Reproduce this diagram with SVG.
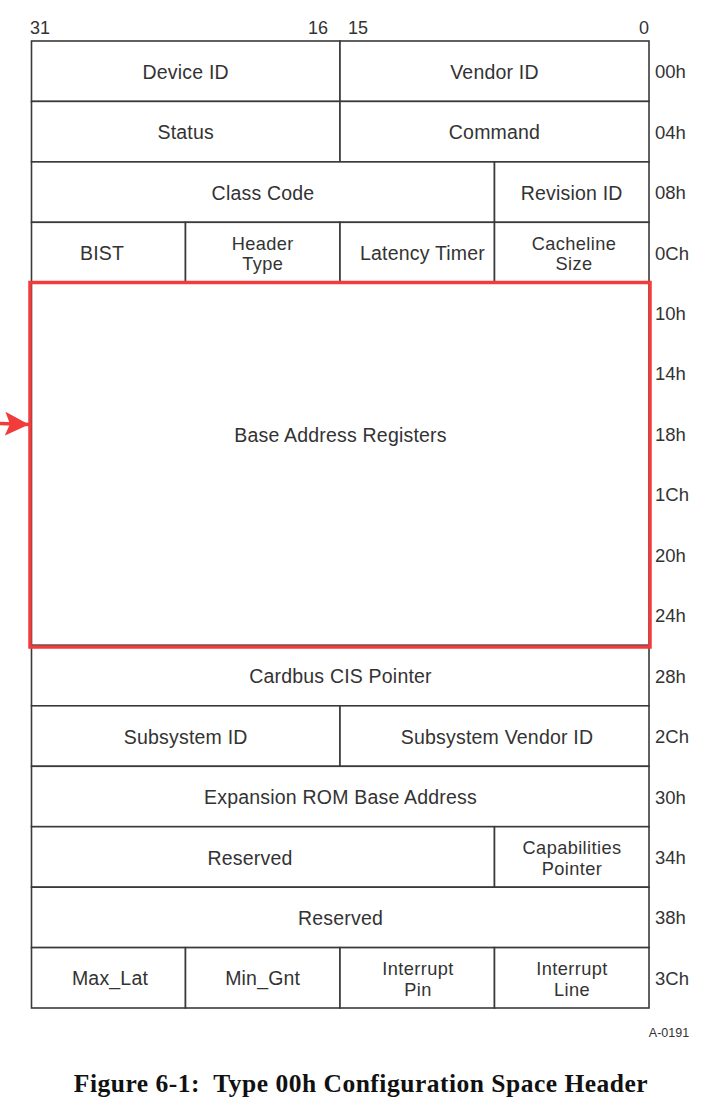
<svg xmlns="http://www.w3.org/2000/svg" width="712" height="1117" viewBox="0 0 712 1117">
<style>
.c{fill:#fff;stroke:#3a3a3a;stroke-width:1.6}
.t{font-family:"Liberation Sans",Arial,sans-serif;font-size:19.5px;fill:#333;text-anchor:middle;letter-spacing:0.2px}
.t2{font-family:"Liberation Sans",Arial,sans-serif;font-size:18.2px;fill:#333;text-anchor:middle;letter-spacing:0.4px}
.o{font-family:"Liberation Sans",Arial,sans-serif;font-size:18.5px;fill:#333}
.b{font-family:"Liberation Sans",Arial,sans-serif;font-size:18px;fill:#333}
.hl{fill:none;stroke:#f23b3b;stroke-width:3.5}
.ar{stroke:#f23b3b;stroke-width:3.5;fill:none}
</style>
<defs>
<marker id="ah" markerUnits="userSpaceOnUse" markerWidth="26" markerHeight="26" refX="24" refY="12" orient="auto">
<path d="M0,0 L24,12 L0,24 L5,12 Z" fill="#f23b3b"/>
</marker>
</defs>
<rect width="712" height="1117" fill="#fff"/>
<g id="bits">
<text class="b" x="30" y="34">31</text>
<text class="b" x="328" y="34" text-anchor="end">16</text>
<text class="b" x="348" y="34">15</text>
<text class="b" x="649" y="34" text-anchor="end">0</text>
</g>
<g id="r00">
<rect class="c" x="31.5" y="41" width="308.5" height="60.4"/><text class="t" x="185.7" y="78.7">Device ID</text>
<rect class="c" x="340" y="41" width="309" height="60.4"/><text class="t" x="494.5" y="78.7">Vendor ID</text>
</g>
<g id="r04">
<rect class="c" x="31.5" y="101.4" width="308.5" height="60.5"/><text class="t" x="185.7" y="139">Status</text>
<rect class="c" x="340" y="101.4" width="309" height="60.5"/><text class="t" x="494.5" y="139">Command</text>
</g>
<g id="r08">
<rect class="c" x="31.5" y="161.9" width="463" height="60.4"/><text class="t" x="263" y="199.5">Class Code</text>
<rect class="c" x="494.5" y="161.9" width="154.5" height="60.4"/><text class="t" x="571.7" y="199.5">Revision ID</text>
</g>
<g id="r0c">
<rect class="c" x="31.5" y="222.3" width="154" height="60.5"/><text class="t" x="102" y="260">BIST</text>
<rect class="c" x="185.5" y="222.3" width="154.5" height="60.5"/><text class="t2" y="249.5"><tspan x="262.7">Header</tspan><tspan x="262.7" dy="20.6">Type</tspan></text>
<rect class="c" x="340" y="222.3" width="154.5" height="60.5"/><text class="t" x="422.5" y="260">Latency Timer</text>
<rect class="c" x="494.5" y="222.3" width="154.5" height="60.5"/><text class="t2" y="249.5"><tspan x="574">Cacheline</tspan><tspan x="574" dy="20.6">Size</tspan></text>
</g>
<g id="bar">
<rect class="c" x="31.5" y="282.8" width="617.5" height="362.6"/>
<text class="t" x="340.5" y="441.5">Base Address Registers</text>
</g>
<g id="r28">
<rect class="c" x="31.5" y="645.4" width="617.5" height="60.4"/><text class="t" x="340.5" y="683">Cardbus CIS Pointer</text>
</g>
<g id="r2c">
<rect class="c" x="31.5" y="705.8" width="308.5" height="60.5"/><text class="t" x="185.7" y="743.5">Subsystem ID</text>
<rect class="c" x="340" y="705.8" width="309" height="60.5"/><text class="t" x="497" y="743.5">Subsystem Vendor ID</text>
</g>
<g id="r30">
<rect class="c" x="31.5" y="766.3" width="617.5" height="60.4"/><text class="t" x="340.5" y="804">Expansion ROM Base Address</text>
</g>
<g id="r34">
<rect class="c" x="31.5" y="826.7" width="463" height="60.5"/><text class="t" x="250" y="864.5">Reserved</text>
<rect class="c" x="494.5" y="826.7" width="154.5" height="60.5"/><text class="t2" y="854.3"><tspan x="572">Capabilities</tspan><tspan x="572" dy="20.6">Pointer</tspan></text>
</g>
<g id="r38">
<rect class="c" x="31.5" y="887.2" width="617.5" height="60.4"/><text class="t" x="340.5" y="925">Reserved</text>
</g>
<g id="r3c">
<rect class="c" x="31.5" y="947.6" width="154" height="60.4"/><text class="t" x="110" y="985.3">Max_Lat</text>
<rect class="c" x="185.5" y="947.6" width="154.5" height="60.4"/><text class="t" x="262.7" y="985.3">Min_Gnt</text>
<rect class="c" x="340" y="947.6" width="154.5" height="60.4"/><text class="t2" y="975.2"><tspan x="418">Interrupt</tspan><tspan x="418" dy="20.6">Pin</tspan></text>
<rect class="c" x="494.5" y="947.6" width="154.5" height="60.4"/><text class="t2" y="975.2"><tspan x="572">Interrupt</tspan><tspan x="572" dy="20.6">Line</tspan></text>
</g>
<g id="offsets">
<text class="o" x="655" y="78.2">00h</text>
<text class="o" x="655" y="138.6">04h</text>
<text class="o" x="655" y="199.1">08h</text>
<text class="o" x="655" y="259.5">0Ch</text>
<text class="o" x="655" y="320">10h</text>
<text class="o" x="655" y="380.4">14h</text>
<text class="o" x="655" y="440.8">18h</text>
<text class="o" x="655" y="501.3">1Ch</text>
<text class="o" x="655" y="561.7">20h</text>
<text class="o" x="655" y="622.2">24h</text>
<text class="o" x="655" y="682.6">28h</text>
<text class="o" x="655" y="743">2Ch</text>
<text class="o" x="655" y="803.5">30h</text>
<text class="o" x="655" y="863.9">34h</text>
<text class="o" x="655" y="924.4">38h</text>
<text class="o" x="655" y="984.8">3Ch</text>
</g>
<g id="highlight">
<rect class="hl" x="30" y="282.5" width="620" height="364.5"/>
</g>
<g id="connectors">
<line class="ar" x1="-2" y1="423.5" x2="29" y2="424.5" marker-end="url(#ah)"/>
</g>
<g id="caption">
<text x="669" y="1037" font-family="'Liberation Sans',Arial,sans-serif" font-size="12.5" fill="#333" text-anchor="middle">A-0191</text>
<text x="361" y="1092" font-family="'Liberation Serif','Times New Roman',serif" font-size="25.5" font-weight="bold" fill="#111" text-anchor="middle" letter-spacing="0.5" style="white-space:pre" xml:space="preserve">Figure 6-1:  Type 00h Configuration Space Header</text>
</g>
</svg>
